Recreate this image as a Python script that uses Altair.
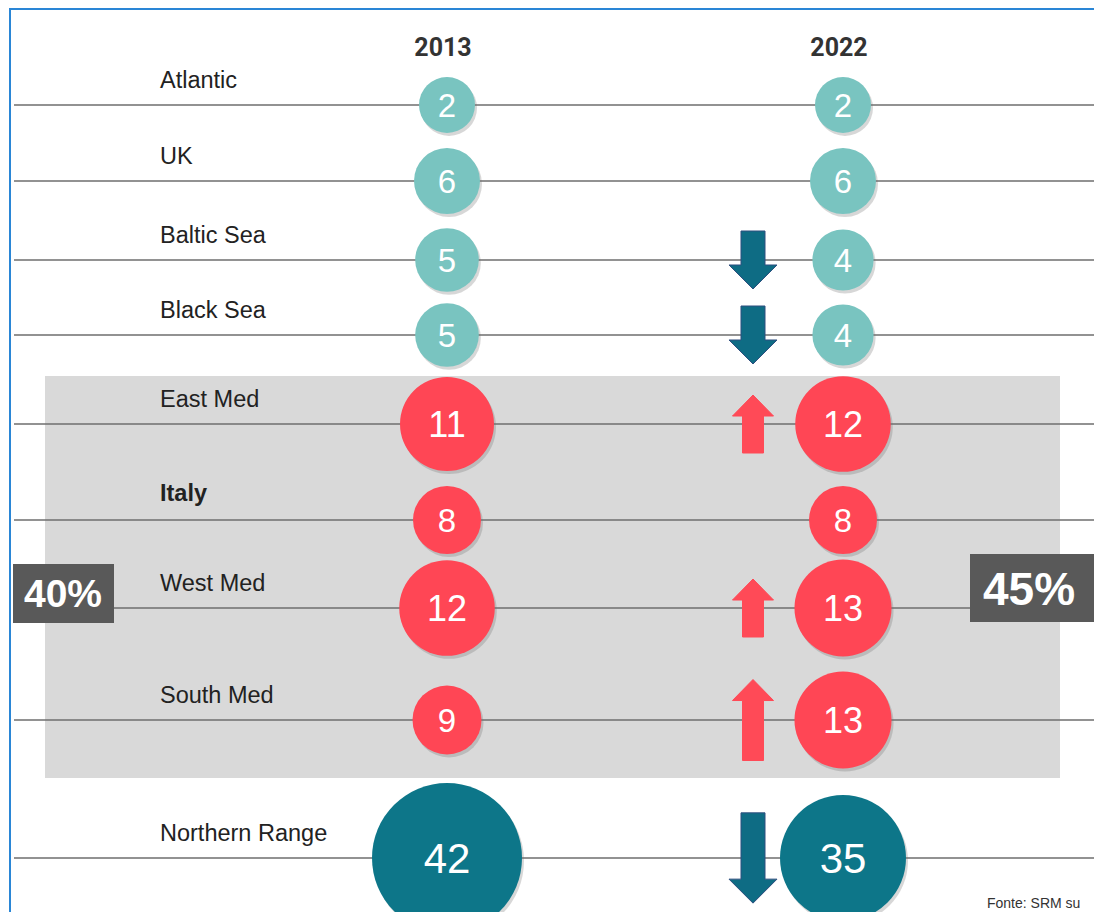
import altair as alt
import pandas as pd

# ---------------- data ----------------
regions = ["Atlantic", "UK", "Baltic Sea", "Black Sea", "East Med", "Italy",
           "West Med", "South Med", "Northern Range"]
groups = ["other", "other", "other", "other", "med", "med", "med", "med", "northern"]
years = ["2013", "2022"]
v2013 = [2, 6, 5, 5, 11, 8, 12, 9, 42]
v2022 = [2, 6, 4, 4, 12, 8, 13, 13, 35]
shares = ["40%", "45%"]
source = "Fonte: SRM su"

# ---------------- layout (scale ranges, pixels) ----------------
ROW_PX = [97, 173, 252, 327, 416, 512, 600, 712, 850]
COL_PX = [152, 439, 745, 835]  # labels, 2013, change arrows, 2022
W, H = 1086, 904

LIGHT, RED, DARK = "#79C4C0", "#FF4655", "#0D7689"
FONT = "Liberation Sans"

rows = pd.DataFrame({"region": regions, "row": list(range(len(regions))),
                     "group": groups, "col": 0})

circ = []
for i, r in enumerate(regions):
    for yr, vals, c in ((years[0], v2013, 1), (years[1], v2022, 3)):
        circ.append({"region": r, "row": i, "col": c, "year": yr,
                     "value": vals[i], "group": groups[i]})
circ = pd.DataFrame(circ)

arr = []
for i, r in enumerate(regions):
    ch = v2022[i] - v2013[i]
    if ch != 0:
        arr.append({"region": r, "row": i, "col": 2, "change": ch,
                    "dir": "down" if ch < 0 else "up"})
arr = pd.DataFrame(arr)

heads = pd.DataFrame({"year": years, "col": [1, 3]})

xs = alt.Scale(domain=[0, 1, 2, 3], range=COL_PX, nice=False, zero=False)
ys = alt.Scale(domain=list(range(len(regions))), range=ROW_PX, nice=False, zero=False)
X = alt.X("col:Q", scale=xs, axis=None)
Y = alt.Y("row:Q", scale=ys, axis=None)

one = pd.DataFrame({"k": [0]})

band = alt.Chart(one).mark_rect(color="#D9D9D9").encode(
    x=alt.value(37), x2=alt.value(1052), y=alt.value(368), y2=alt.value(770))

border_l = alt.Chart(one).mark_rule(color="#2A86D6", strokeWidth=2).encode(
    x=alt.value(2), y=alt.value(0), y2=alt.value(H))
border_t = alt.Chart(one).mark_rule(color="#2A86D6", strokeWidth=2).encode(
    y=alt.value(1), x=alt.value(2), x2=alt.value(W))

lines = alt.Chart(rows).mark_rule(color="#6E6E6E", strokeWidth=1.5).encode(
    y=Y, x=alt.value(6), x2=alt.value(W))

labels = alt.Chart(rows).transform_filter("datum.region != 'Italy'").mark_text(
    align="left", baseline="middle", dy=-24, font=FONT, fontSize=23.5, color="#222222"
).encode(x=X, y=Y, text="region:N")
labels_b = alt.Chart(rows).transform_filter("datum.region == 'Italy'").mark_text(
    align="left", baseline="middle", dy=-26, font=FONT, fontSize=23.5,
    fontWeight="bold", color="#222222"
).encode(x=X, y=Y, text="region:N")

header = alt.Chart(heads).mark_text(
    align="center", baseline="middle", font="Roboto", fontSize=25,
    fontWeight="bold", color="#333333", dx=-4
).encode(x=X, y=alt.value(40), text="year:N")

box40 = alt.Chart(pd.DataFrame({"t": [shares[0]]})).mark_rect(color="#595959").encode(
    x=alt.value(5), x2=alt.value(106), y=alt.value(556), y2=alt.value(615))
txt40 = alt.Chart(pd.DataFrame({"t": [shares[0]]})).mark_text(
    align="center", baseline="middle", font=FONT, fontSize=39, fontWeight="bold",
    color="white", dy=2).encode(x=alt.value(55), y=alt.value(585), text="t:N")
box45 = alt.Chart(pd.DataFrame({"t": [shares[1]]})).mark_rect(color="#595959").encode(
    x=alt.value(962), x2=alt.value(W), y=alt.value(546), y2=alt.value(614))
txt45 = alt.Chart(pd.DataFrame({"t": [shares[1]]})).mark_text(
    align="center", baseline="middle", font=FONT, fontSize=46, fontWeight="bold",
    color="white", dy=2).encode(x=alt.value(1021), y=alt.value(581), text="t:N")

# piecewise size scale (symbol area = diameter^2)
size_sc = alt.Scale(domain=[2, 6, 9, 11, 35, 42],
                    range=[56 ** 2, 66 ** 2, 69 ** 2, 94 ** 2, 126 ** 2, 150 ** 2],
                    zero=False, nice=False)

shadow = alt.Chart(circ).mark_circle(color="#6f6f6f", opacity=0.28, xOffset=2, yOffset=3).encode(
    x=X, y=Y, size=alt.Size("value:Q", scale=size_sc, legend=None))

circles = alt.Chart(circ).mark_circle(opacity=1).encode(
    x=X, y=Y,
    size=alt.Size("value:Q", scale=size_sc, legend=None),
    color=alt.Color("group:N", scale=alt.Scale(domain=["other", "med", "northern"],
                                               range=[LIGHT, RED, DARK]), legend=None))

nums = alt.Chart(circ).transform_calculate(
    fs="datum.value > 20 ? 42 : (datum.value > 9 ? 36 : 33)"
).mark_text(align="center", baseline="middle", font=FONT, color="white", dy=2).encode(
    x=X, y=Y, text="value:Q", size=alt.Size("fs:Q", scale=None, legend=None))

down_path = ("'M-0.261,' + (-datum.h) + 'L0.261,' + (-datum.h) + 'L0.261,' + (datum.h-0.522)"
             " + 'L0.522,' + (datum.h-0.522) + 'L0,' + datum.h + 'L-0.522,' + (datum.h-0.522)"
             " + 'L-0.261,' + (datum.h-0.522) + 'Z'")
up_path = ("'M-0.228,' + datum.h + 'L0.228,' + datum.h + 'L0.228,' + (0.457-datum.h)"
           " + 'L0.446,' + (0.457-datum.h) + 'L0,' + (-datum.h) + 'L-0.446,' + (0.457-datum.h)"
           " + 'L-0.228,' + (0.457-datum.h) + 'Z'")

arrows = alt.Chart(arr).transform_calculate(
    h="(58 + 16.6*log(abs(datum.change)))/92"
).transform_calculate(
    path=f"datum.change < 0 ? ({down_path}) : ({up_path})"
).mark_point(filled=True, opacity=1, size=8464, strokeWidth=1).encode(
    x=X, y=Y,
    shape=alt.Shape("path:N", scale=None, legend=None),
    fill=alt.Fill("dir:N", scale=alt.Scale(domain=["down", "up"], range=["#0E6C84", "#FF4A57"]),
                  legend=None),
    stroke=alt.Stroke("dir:N", scale=alt.Scale(domain=["down", "up"], range=["#2F4F7F", "#FF4A57"]),
                      legend=None))

footer = alt.Chart(pd.DataFrame({"t": [source]})).mark_text(
    align="left", baseline="bottom", font=FONT, fontSize=14, color="#333333"
).encode(x=alt.value(979), y=alt.value(903), text="t:N")

chart = alt.layer(
    band, border_l, border_t, lines, labels, labels_b, header,
    box40, txt40, box45, txt45, shadow, circles, nums, arrows, footer
).properties(
    width=W, height=H, padding=0,
    autosize=alt.AutoSizeParams(type="none")
).configure_view(stroke="transparent", strokeWidth=0)

chart.save("out.html", embed_options={"renderer": "svg", "actions": False})
